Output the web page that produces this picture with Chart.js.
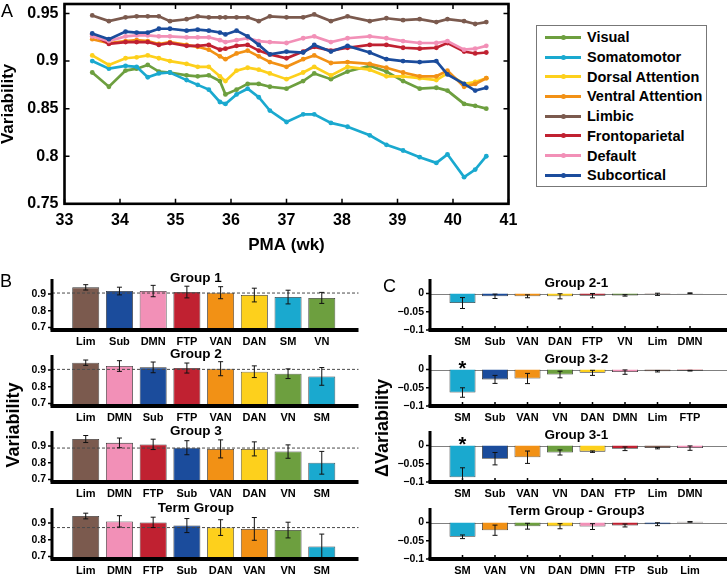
<!DOCTYPE html>
<html>
<head>
<meta charset="utf-8">
<title>Network variability</title>
<script src="https://cdn.jsdelivr.net/npm/chart.js@4.4.1/dist/chart.umd.min.js"></script>
<style>
  html, body { margin: 0; padding: 0; background: #fff; }
  #page { position: relative; width: 727px; height: 574px; overflow: hidden;
          font-family: "Liberation Sans", Arial, sans-serif; color: #000; }
  #page canvas { position: absolute; }
  .lbl { position: absolute; white-space: nowrap; line-height: 1; }
  .panel { font-size: 18px; }
  .ttl { font-size: 13.5px; font-weight: bold; transform: translateX(-50%); }
  .ylab { font-size: 18px; font-weight: bold; transform: translate(-50%, -50%) rotate(-90deg); }
  #legendA { position: absolute; left: 536px; top: 25px; width: 171px; height: 162px;
             border: 1px solid #777; box-sizing: border-box; background: #fff; }
  .row { position: absolute; left: 0; width: 100%; height: 20px; line-height: 20px;
         font-size: 14.5px; font-weight: bold; }
  .row .swatch { position: absolute; left: 8px; top: 8.5px; width: 36px; height: 3px; }
  .row .dot { position: absolute; left: 15.5px; top: -1px; width: 5px; height: 5px; border-radius: 50%; }
  .row .name { position: absolute; left: 50px; }
</style>
</head>
<body>
<div id="page">
  <canvas id="chartA" width="727" height="254" style="left:0;top:0"></canvas>
  <div id="legendA"></div>

  <canvas id="b1" width="362" height="73" style="left:0;top:277px"></canvas>
  <canvas id="b2" width="362" height="73" style="left:0;top:353px"></canvas>
  <canvas id="b3" width="362" height="73" style="left:0;top:429px"></canvas>
  <canvas id="b4" width="362" height="73" style="left:0;top:506px"></canvas>

  <canvas id="c1" width="357" height="73" style="left:370px;top:277px"></canvas>
  <canvas id="c2" width="357" height="73" style="left:370px;top:353px"></canvas>
  <canvas id="c3" width="357" height="73" style="left:370px;top:429px"></canvas>
  <canvas id="c4" width="357" height="73" style="left:370px;top:506px"></canvas>

  <div class="lbl panel" style="left:1px;top:1.5px">A</div>
  <div class="lbl panel" style="left:0;top:272px">B</div>
  <div class="lbl panel" style="left:383px;top:277px">C</div>

  <div class="lbl ttl" style="left:196px;top:270.5px">Group 1</div>
  <div class="lbl ttl" style="left:196px;top:346.5px">Group 2</div>
  <div class="lbl ttl" style="left:196px;top:423.5px">Group 3</div>
  <div class="lbl ttl" style="left:196px;top:500.5px">Term Group</div>

  <div class="lbl ttl" style="left:576.5px;top:275.5px">Group 2-1</div>
  <div class="lbl ttl" style="left:576.5px;top:351.5px">Group 3-2</div>
  <div class="lbl ttl" style="left:576.5px;top:427.5px">Group 3-1</div>
  <div class="lbl ttl" style="left:576.5px;top:503.5px">Term Group - Group3</div>

  <div class="lbl ylab" style="left:13px;top:425px">Variability</div>
  <div class="lbl ylab" style="left:382px;top:428px">ΔVariability</div>
</div>

<script>
// ---- Panel A: variability per network against PMA ----
const pma = [33.5, 33.8, 34.1, 34.3, 34.5, 34.7, 34.9, 35.2, 35.4, 35.6,
             35.8, 35.9, 36.1, 36.3, 36.5, 36.7, 37.0, 37.3, 37.5, 37.8,
             38.1, 38.5, 38.8, 39.1, 39.4, 39.7, 39.9, 40.2, 40.4, 40.6];
const visual = [0.888, 0.873, 0.890, 0.892, 0.896, 0.889, 0.888, 0.885, 0.884, 0.885,
                0.879, 0.865, 0.870, 0.876, 0.876, 0.873, 0.871, 0.879, 0.887, 0.881,
                0.889, 0.895, 0.889, 0.879, 0.871, 0.872, 0.869, 0.855, 0.853, 0.850];
const somatomotor = [0.900, 0.892, 0.895, 0.894, 0.883, 0.887, 0.888, 0.880, 0.875, 0.870,
                     0.857, 0.855, 0.865, 0.871, 0.862, 0.848, 0.836, 0.844, 0.844, 0.835,
                     0.831, 0.822, 0.812, 0.806, 0.799, 0.793, 0.802, 0.778, 0.786, 0.800];
const dorsalAttention = [0.906, 0.896, 0.903, 0.904, 0.906, 0.903, 0.900, 0.897, 0.894, 0.894,
                         0.884, 0.879, 0.890, 0.893, 0.891, 0.887, 0.881, 0.888, 0.894, 0.885,
                         0.894, 0.891, 0.884, 0.884, 0.882, 0.880, 0.887, 0.876, 0.878, 0.882];
const ventralAttention = [0.923, 0.919, 0.921, 0.922, 0.921, 0.918, 0.920, 0.917, 0.915, 0.912,
                          0.905, 0.902, 0.908, 0.911, 0.905, 0.899, 0.894, 0.902, 0.906, 0.898,
                          0.899, 0.897, 0.893, 0.888, 0.884, 0.884, 0.890, 0.873, 0.876, 0.882];
const limbic = [0.948, 0.942, 0.946, 0.947, 0.947, 0.947, 0.942, 0.944, 0.947, 0.946,
                0.946, 0.946, 0.946, 0.946, 0.942, 0.947, 0.946, 0.946, 0.949, 0.942,
                0.947, 0.942, 0.945, 0.943, 0.944, 0.941, 0.944, 0.942, 0.939, 0.941];
const frontoparietal = [0.928, 0.918, 0.920, 0.920, 0.920, 0.917, 0.919, 0.916, 0.916, 0.917,
                        0.912, 0.913, 0.916, 0.917, 0.911, 0.907, 0.903, 0.910, 0.915, 0.911,
                        0.914, 0.917, 0.917, 0.914, 0.913, 0.914, 0.919, 0.910, 0.908, 0.909];
const defaultMode = [0.926, 0.921, 0.926, 0.927, 0.927, 0.926, 0.926, 0.925, 0.925, 0.925,
                     0.922, 0.920, 0.922, 0.924, 0.921, 0.920, 0.919, 0.924, 0.926, 0.920,
                     0.924, 0.926, 0.924, 0.921, 0.919, 0.919, 0.921, 0.912, 0.913, 0.916];
const subcortical = [0.929, 0.923, 0.931, 0.930, 0.930, 0.934, 0.934, 0.932, 0.933, 0.932,
                     0.930, 0.928, 0.932, 0.926, 0.917, 0.907, 0.910, 0.909, 0.917, 0.910,
                     0.916, 0.909, 0.902, 0.900, 0.899, 0.900, 0.886, 0.876, 0.869, 0.872];
const pmaTicks = [33, 34, 35, 36, 37, 38, 39, 40, 41];
const varTicks = [0.75, 0.8, 0.85, 0.9, 0.95];

const networkNames = ['Visual', 'Somatomotor', 'Dorsal Attention', 'Ventral Attention',
                      'Limbic', 'Frontoparietal', 'Default', 'Subcortical'];
const networkAbbrev = ['VN', 'SM', 'DAN', 'VAN', 'Lim', 'FTP', 'DMN', 'Sub'];
const networkColors = ['#6d9f3f', '#1aa9cf', '#fdd01c', '#f29115',
                       '#7b5a4e', '#c02131', '#f290b7', '#1b4c9c'];

// ---- Panel B: mean variability per group (bars, error bars, group mean) ----
const b1Labels = ['Lim', 'Sub', 'DMN', 'FTP', 'VAN', 'DAN', 'SM', 'VN'];
const b1Values = [0.940, 0.918, 0.918, 0.912, 0.908, 0.894, 0.882, 0.877];
const b1Errors = [0.016, 0.023, 0.034, 0.035, 0.036, 0.041, 0.041, 0.033];
const b1Mean = 0.906;
const b2Labels = ['Lim', 'DMN', 'Sub', 'FTP', 'VAN', 'DAN', 'VN', 'SM'];
const b2Values = [0.944, 0.924, 0.916, 0.912, 0.908, 0.890, 0.878, 0.862];
const b2Errors = [0.016, 0.032, 0.032, 0.030, 0.042, 0.035, 0.029, 0.053];
const b2Mean = 0.904;
const b3Labels = ['Lim', 'DMN', 'FTP', 'Sub', 'VAN', 'DAN', 'VN', 'SM'];
const b3Values = [0.942, 0.919, 0.910, 0.890, 0.883, 0.883, 0.867, 0.800];
const b3Errors = [0.021, 0.029, 0.031, 0.042, 0.054, 0.042, 0.040, 0.068];
const b3Mean = 0.888;
const b4Labels = ['Lim', 'DMN', 'FTP', 'Sub', 'DAN', 'VAN', 'VN', 'SM'];
const b4Values = [0.942, 0.910, 0.904, 0.885, 0.873, 0.865, 0.858, 0.760];
const b4Errors = [0.017, 0.034, 0.031, 0.042, 0.047, 0.068, 0.047, 0.074];
const b4Mean = 0.873;
const bTicks = [0.7, 0.8, 0.9];

// ---- Panel C: change in variability between groups ----
const c1Labels = ['SM', 'Sub', 'VAN', 'DAN', 'FTP', 'VN', 'Lim', 'DMN'];
const c1Values = [-0.026, -0.0075, -0.0075, -0.0075, -0.0057, -0.005, -0.002, 0.001];
const c1Errors = [0.015, 0.006, 0.004, 0.007, 0.006, 0.002, 0.003, 0.001];
const c2Labels = ['SM', 'Sub', 'VAN', 'VN', 'DAN', 'DMN', 'Lim', 'FTP'];
const c2Values = [-0.063, -0.027, -0.0245, -0.0136, -0.009, -0.007, -0.0045, -0.003];
const c2Errors = [0.013, 0.011, 0.014, 0.009, 0.007, 0.006, 0.002, 0.001];
const c2Stars = ['SM'];
const c3Labels = ['SM', 'Sub', 'VAN', 'VN', 'DAN', 'FTP', 'Lim', 'DMN'];
const c3Values = [-0.087, -0.036, -0.032, -0.019, -0.0167, -0.0088, -0.007, -0.007];
const c3Errors = [0.026, 0.017, 0.017, 0.007, 0.002, 0.005, 0.002, 0.006];
const c3Stars = ['SM'];
const c4Labels = ['SM', 'VAN', 'VN', 'DAN', 'DMN', 'FTP', 'Sub', 'Lim'];
const c4Values = [-0.039, -0.021, -0.010, -0.010, -0.011, -0.008, -0.0045, 0.002];
const c4Errors = [0.005, 0.014, 0.008, 0.007, 0.008, 0.004, 0.004, 0.001];
const cTicks = [-0.1, -0.05, 0];

Chart.defaults.font.family = '"Liberation Sans", Arial, sans-serif';
Chart.defaults.font.weight = 'bold';
Chart.defaults.color = '#000';
Chart.defaults.animation = false;
Chart.defaults.responsive = false;
Chart.defaults.events = [];
Chart.defaults.plugins.legend.display = false;
Chart.defaults.plugins.tooltip.enabled = false;

function colorOf(abbrev) {
  return networkColors[networkAbbrev.indexOf(abbrev)];
}

// Box round panel A with inward ticks on all four sides
const boxAxes = {
  id: 'boxAxes',
  afterDraw(chart) {
    const { ctx, chartArea: a, scales: { x, y } } = chart;
    ctx.save();
    ctx.strokeStyle = '#000';
    ctx.lineWidth = 1.5;
    ctx.beginPath();
    pmaTicks.forEach(v => {
      const px = x.getPixelForValue(v);
      ctx.moveTo(px, a.bottom); ctx.lineTo(px, a.bottom - 5);
      ctx.moveTo(px, a.top); ctx.lineTo(px, a.top + 5);
    });
    varTicks.forEach(v => {
      const py = y.getPixelForValue(v);
      ctx.moveTo(a.left, py); ctx.lineTo(a.left + 5, py);
      ctx.moveTo(a.right, py); ctx.lineTo(a.right - 5, py);
    });
    ctx.stroke();
    ctx.lineWidth = 2.6;
    ctx.strokeRect(a.left, a.top, a.right - a.left, a.bottom - a.top);
    ctx.restore();
  }
};

const seriesA = [visual, somatomotor, dorsalAttention, ventralAttention,
                 limbic, frontoparietal, defaultMode, subcortical];

new Chart(document.getElementById('chartA'), {
  type: 'scatter',
  data: {
    datasets: seriesA.map((vals, i) => ({
      label: networkNames[i],
      data: vals.map((v, j) => ({ x: pma[j], y: v })),
      showLine: true,
      borderColor: networkColors[i],
      backgroundColor: networkColors[i],
      borderWidth: 2.7,
      pointRadius: 2.4,
      pointBorderWidth: 0,
      order: seriesA.length - i   // later networks sit on top, as in the figure
    }))
  },
  options: {
    layout: { padding: { left: 0, top: 2, right: 218.5, bottom: 0 } },
    scales: {
      x: {
        type: 'linear', min: 33, max: 41,
        afterBuildTicks: s => { s.ticks = pmaTicks.map(v => ({ value: v })); },
        afterFit: s => { s.height = 50.2; },
        grid: { display: false, drawTicks: false },
        border: { display: false },
        ticks: { font: { size: 16 }, padding: 7, maxRotation: 0 },
        title: { display: true, text: 'PMA (wk)', font: { size: 17, lineHeight: 1 }, padding: 0 }
      },
      y: {
        min: 0.75, max: 0.96,
        afterBuildTicks: s => { s.ticks = varTicks.map(v => ({ value: v })); },
        afterFit: s => { s.width = 64.5; s.paddingTop = 0; s.paddingBottom = 0; },
        grid: { display: false, drawTicks: false },
        border: { display: false },
        ticks: { font: { size: 16 }, padding: 6, callback: v => String(+v.toFixed(2)) },
        title: { display: true, text: 'Variability', font: { size: 17, lineHeight: 1 }, padding: 0 }
      }
    }
  },
  plugins: [boxAxes]
});

// Legend of panel A
const legendBox = document.getElementById('legendA');
networkNames.forEach((name, i) => {
  const row = document.createElement('div');
  row.className = 'row';
  row.style.top = (1.3 + i * 19.7) + 'px';
  row.innerHTML = '<span class="swatch" style="background:' + networkColors[i] + '">' +
    '<span class="dot" style="background:' + networkColors[i] + '"></span></span>' +
    '<span class="name">' + name + '</span>';
  legendBox.appendChild(row);
});

// Error bars, reference lines, stars and the two thick axes for B and C
function barExtras(values, errors, opt) {
  return {
    id: 'barExtras',
    beforeDatasetsDraw(chart) {
      const { ctx, chartArea: a, scales: { x, y } } = chart;
      ctx.save();
      ctx.strokeStyle = '#000';
      ctx.lineWidth = 1.5;
      ctx.beginPath();
      opt.ticks.forEach(v => {
        const py = y.getPixelForValue(v);
        ctx.moveTo(a.left - 4, py); ctx.lineTo(a.left, py);
      });
      values.forEach((v, i) => {
        const px = x.getPixelForValue(i + 1);
        ctx.moveTo(px, a.bottom); ctx.lineTo(px, a.bottom - 4);
      });
      ctx.stroke();
      if (opt.zeroLine) {
        const y0 = Math.round(y.getPixelForValue(0)) + 0.5;
        ctx.strokeStyle = '#808080';
        ctx.lineWidth = 1;
        ctx.beginPath();
        ctx.moveTo(a.left, y0); ctx.lineTo(chart.width, y0);
        ctx.stroke();
      }
      ctx.restore();
    },
    afterDatasetsDraw(chart) {
      const { ctx, chartArea: a, scales: { y } } = chart;
      const meta = chart.getDatasetMeta(0);
      ctx.save();
      if (opt.mean !== undefined) {
        const ym = y.getPixelForValue(opt.mean);
        ctx.strokeStyle = '#4a4a4a';
        ctx.lineWidth = 1;
        ctx.setLineDash([3, 2]);
        ctx.beginPath();
        ctx.moveTo(a.left, ym); ctx.lineTo(a.right + 3, ym);
        ctx.stroke();
        ctx.setLineDash([]);
      }
      ctx.save();
      ctx.beginPath();
      ctx.rect(a.left, a.top, a.right - a.left, a.bottom - a.top);
      ctx.clip();
      ctx.strokeStyle = '#111';
      ctx.lineWidth = 1;
      ctx.beginPath();
      values.forEach((v, i) => {
        const px = meta.data[i].x;
        const yHi = y.getPixelForValue(v + errors[i]);
        const yLo = y.getPixelForValue(v - errors[i]);
        ctx.moveTo(px, yHi); ctx.lineTo(px, yLo);
        ctx.moveTo(px - 2.5, yHi); ctx.lineTo(px + 2.5, yHi);
        ctx.moveTo(px - 2.5, yLo); ctx.lineTo(px + 2.5, yLo);
      });
      ctx.stroke();
      ctx.restore();
      (opt.stars || []).forEach(lab => {
        const i = opt.labels.indexOf(lab);
        ctx.fillStyle = '#000';
        ctx.font = 'bold 20px "Liberation Sans", Arial, sans-serif';
        ctx.textAlign = 'center';
        ctx.textBaseline = 'alphabetic';
        ctx.fillText('*', meta.data[i].x, y.getPixelForValue(0) + 5);
      });
      ctx.strokeStyle = '#000';
      ctx.lineWidth = 3;
      ctx.beginPath();
      ctx.moveTo(a.left, a.top); ctx.lineTo(a.left, a.bottom);
      ctx.stroke();
      ctx.lineWidth = 4;
      ctx.beginPath();
      ctx.moveTo(a.left - 1.5, a.bottom); ctx.lineTo(a.right + opt.axisExtra, a.bottom);
      ctx.stroke();
      ctx.restore();
    }
  };
}

function barPanel(id, labels, values, errors, opt) {
  opt.labels = labels;
  new Chart(document.getElementById(id), {
    type: 'bar',
    data: {
      datasets: [{
        data: values.map((v, i) => ({ x: i + 1, y: v })),
        backgroundColor: labels.map(colorOf),
        borderColor: '#333',
        borderWidth: 0.8,
        categoryPercentage: 0.8,
        barPercentage: 1
      }]
    },
    options: {
      layout: { padding: { left: 0, top: 2, right: opt.padRight, bottom: 0 } },
      scales: {
        x: {
          type: 'linear', min: 0, max: 9, offset: false,
          afterBuildTicks: s => { s.ticks = labels.map((l, i) => ({ value: i + 1 })); },
          afterFit: s => { s.height = 20; },
          grid: { display: false, drawTicks: false },
          border: { display: false },
          ticks: { font: { size: 11 }, padding: 5, maxRotation: 0, autoSkip: false,
                   callback: v => labels[v - 1] }
        },
        y: {
          min: opt.min, max: opt.max,
          afterBuildTicks: s => { s.ticks = opt.ticks.map(v => ({ value: v })); },
          afterFit: s => { s.width = opt.axisWidth; s.paddingTop = 0; s.paddingBottom = 0; },
          grid: { display: false, drawTicks: false },
          border: { display: false },
          ticks: { font: { size: 10.5 }, padding: 6, callback: opt.fmt }
        }
      }
    },
    plugins: [barExtras(values, errors, opt)]
  });
}

const fmtB = v => v.toFixed(1);
const fmtC = v => (v === 0 ? '0' : '\u2212' + String(Math.abs(v)));

function optB(mean) {
  return { min: 0.685, max: 0.99, ticks: bTicks, fmt: fmtB, mean: mean,
           axisWidth: 52, padRight: 6.5, axisExtra: 3 };
}
function optC(stars) {
  return { min: -0.1, max: 0.04, ticks: cTicks, fmt: fmtC, zeroLine: true, stars: stars,
           axisWidth: 60, padRight: 4.5, axisExtra: 5 };
}

barPanel('b1', b1Labels, b1Values, b1Errors, optB(b1Mean));
barPanel('b2', b2Labels, b2Values, b2Errors, optB(b2Mean));
barPanel('b3', b3Labels, b3Values, b3Errors, optB(b3Mean));
barPanel('b4', b4Labels, b4Values, b4Errors, optB(b4Mean));

barPanel('c1', c1Labels, c1Values, c1Errors, optC([]));
barPanel('c2', c2Labels, c2Values, c2Errors, optC(c2Stars));
barPanel('c3', c3Labels, c3Values, c3Errors, optC(c3Stars));
barPanel('c4', c4Labels, c4Values, c4Errors, optC([]));
</script>
</body>
</html>
